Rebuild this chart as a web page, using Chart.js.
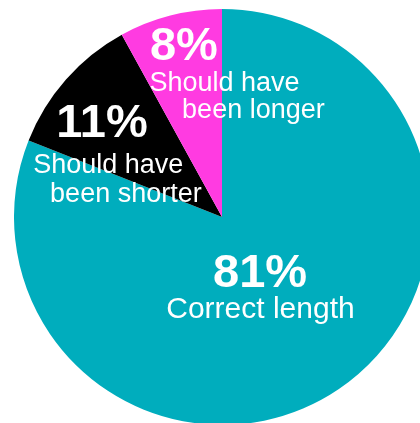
<!DOCTYPE html>
<html>
<head>
<meta charset="utf-8">
<script src="https://cdn.jsdelivr.net/npm/chart.js@4/dist/chart.umd.min.js"></script>
<style>
  html, body { margin: 0; padding: 0; background: #ffffff; overflow: hidden; }
  body { width: 420px; height: 423px; position: relative; }
  #pie { position: absolute; left: 14px; top: 9px; }
</style>
</head>
<body>
<canvas id="pie" width="416" height="416"></canvas>
<script>
// Survey answers, in clockwise order from 12 o'clock
const categories = ['Correct length', 'Should have been shorter', 'Should have been longer'];
const shares = [81, 11, 8];
const sliceColors = ['#00adbd', '#000000', '#ff3be1'];

// Label lines per slice: [text, kind]
const labelLines = [
  [['81%', 'big'], ['Correct length', 'large']],
  [['11%', 'big'], ['Should have', 'small'], ['been shorter', 'small']],
  [['8%', 'big'], ['Should have', 'small'], ['been longer', 'small']]
];
// Offsets of each label line from the pie centre, as fractions of the radius
const labelOffsets = [
  [[0.183, 0.338], [0.185, 0.487]],
  [[-0.577, -0.383], [-0.547, -0.213], [-0.462, -0.074]],
  [[-0.183, -0.755], [0.012, -0.607], [0.151, -0.474]]
];

const fonts = {
  big: 'bold 47px "Liberation Sans", Arial, Helvetica, sans-serif',
  small: '27px "Liberation Sans", Arial, Helvetica, sans-serif',
  large: '30px "Liberation Sans", Arial, Helvetica, sans-serif'
};

const sliceLabels = {
  id: 'sliceLabels',
  afterDatasetsDraw(chart) {
    const arc = chart.getDatasetMeta(0).data[0];
    const cx = arc.x, cy = arc.y, r = arc.outerRadius;
    const ctx = chart.ctx;
    ctx.save();
    ctx.fillStyle = '#ffffff';
    ctx.textAlign = 'center';
    ctx.textBaseline = 'alphabetic';
    labelLines.forEach((lines, i) => {
      lines.forEach(([text, kind], j) => {
        const [fx, fy] = labelOffsets[i][j];
        ctx.font = fonts[kind];
        ctx.fillText(text, cx + fx * r, cy + fy * r);
      });
    });
    ctx.restore();
  }
};

new Chart(document.getElementById('pie'), {
  type: 'pie',
  data: {
    labels: categories,
    datasets: [{
      data: shares,
      backgroundColor: sliceColors,
      borderWidth: 0,
      hoverOffset: 0
    }]
  },
  options: {
    responsive: false,
    animation: false,
    layout: { padding: 0 },
    plugins: {
      legend: { display: false },
      tooltip: { enabled: false }
    },
    events: []
  },
  plugins: [sliceLabels]
});
</script>
</body>
</html>
